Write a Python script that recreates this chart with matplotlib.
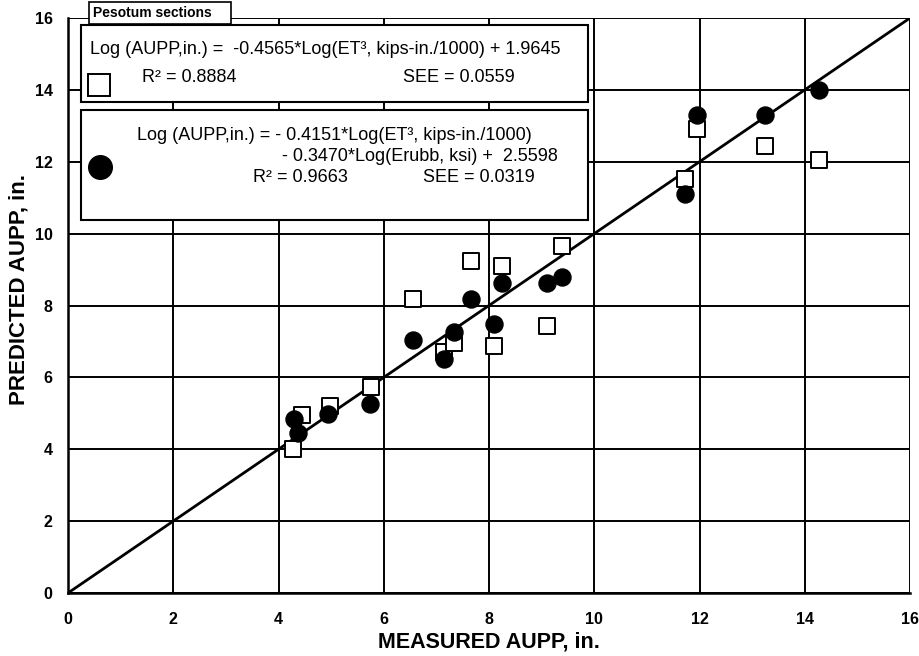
import matplotlib.pyplot as plt
from matplotlib.patches import Rectangle
from matplotlib.lines import Line2D

plt.rcParams['font.family'] = ['Liberation Sans', 'DejaVu Sans']

# open squares: single-variable model (ET^3)
square_x = [4.27, 4.45, 4.97, 5.75, 6.56, 7.15, 7.33, 7.66, 8.09, 8.25, 9.11, 9.39, 11.72, 11.96, 13.24, 14.28]
square_y = [4.0, 4.95, 5.2, 5.72, 8.19, 6.7, 6.96, 9.24, 6.86, 9.1, 7.42, 9.66, 11.53, 12.9, 12.43, 12.05]
# filled circles: two-variable model (ET^3, Erubb)
circle_x = [4.29, 4.38, 4.95, 5.74, 6.56, 7.14, 7.33, 7.66, 8.09, 8.25, 9.11, 9.39, 11.72, 11.96, 13.24, 14.28]
circle_y = [4.83, 4.44, 4.97, 5.27, 7.05, 6.51, 7.26, 8.17, 7.49, 8.62, 8.62, 8.8, 11.1, 13.29, 13.29, 14.0]
ticks = [0, 2, 4, 6, 8, 10, 12, 14, 16]

W, H = 919, 656
fig = plt.figure(figsize=(W / 100, H / 100), dpi=100)
ax = fig.add_axes([68 / W, 1 - 593 / H, (910 - 68) / W, (593 - 18) / H])

ax.plot([0, 16], [0, 16], color='black', lw=2, zorder=3)
ax.scatter(square_x, square_y, marker='s', s=140, facecolor='white', edgecolor='black', lw=1.4, zorder=4)
ax.scatter(circle_x, circle_y, marker='o', s=150, color='black', zorder=5)

ax.set_xlim(0, 16)
ax.set_ylim(0, 16)
ax.set_xticks(ticks)
ax.set_yticks(ticks)
ax.grid(True, color='black', lw=1.4)
ax.set_axisbelow(True)
for s in ['top', 'right']:
    ax.spines[s].set_visible(False)
for s in ['left', 'bottom']:
    ax.spines[s].set_linewidth(1.8)
ax.tick_params(axis='x', length=0, pad=14, labelsize=11.5)
ax.tick_params(axis='y', length=0, pad=11, labelsize=11.5)
for lab in ax.get_xticklabels() + ax.get_yticklabels():
    lab.set_fontweight('bold')
ax.set_xlabel('MEASURED AUPP, in.', fontsize=15.5, fontweight='bold', labelpad=3)
ax.set_ylabel('PREDICTED AUPP, in.', fontsize=16, fontweight='bold')
ax.yaxis.set_label_coords(-0.046, 0.527)


def fx(x):
    return x / W


def fy(y):
    return 1 - y / H


def box(x0, y0, x1, y1, lw=1.5):
    fig.add_artist(Rectangle((fx(x0), fy(y1)), fx(x1) - fx(x0), fy(y0) - fy(y1),
                             transform=fig.transFigure, facecolor='white',
                             edgecolor='black', lw=lw, zorder=10))


def txt(x, y, s, size=13, **kw):
    fig.text(fx(x), fy(y), s, va='center', ha='left', fontsize=size, zorder=11, **kw)


# legend boxes
box(81, 25, 588, 102)
box(81, 110, 588, 220)
box(89, 2, 231, 24, lw=1.2)
txt(93, 13, 'Pesotum sections', size=10, fontweight='bold')

txt(90, 50, 'Log (AUPP,in.) =  -0.4565*Log(ET³, kips-in./1000) + 1.9645')
txt(142, 78, 'R² = 0.8884')
txt(403, 78, 'SEE = 0.0559')
fig.add_artist(Line2D([fx(99)], [fy(85)], marker='s', ms=16, mfc='white', mec='black',
                      mew=1.4, transform=fig.transFigure, zorder=11))

txt(137, 135, 'Log (AUPP,in.) = - 0.4151*Log(ET³, kips-in./1000)')
txt(282, 157, '- 0.3470*Log(Erubb, ksi) +  2.5598')
txt(253, 178, 'R² = 0.9663')
txt(423, 178, 'SEE = 0.0319')
fig.add_artist(Line2D([fx(100)], [fy(167)], marker='o', ms=17, color='black',
                      transform=fig.transFigure, zorder=11))

plt.savefig('out.png', dpi=100)
